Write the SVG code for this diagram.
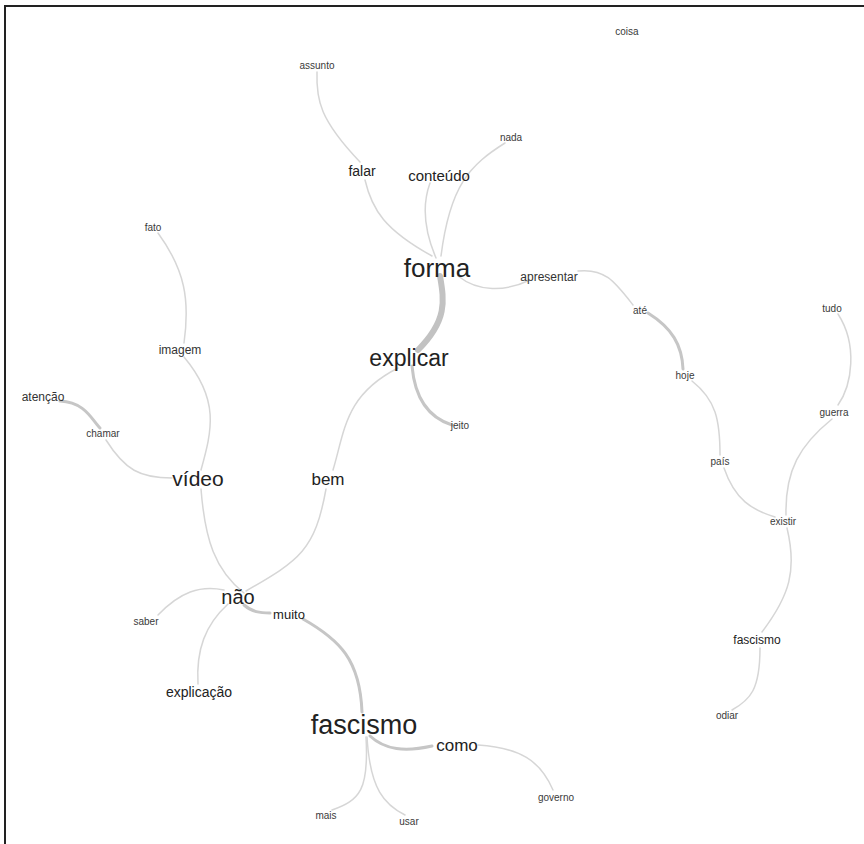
<svg xmlns="http://www.w3.org/2000/svg" width="864" height="844" viewBox="0 0 864 844">
<style>
text{font-family:"Liberation Sans",Arial,sans-serif;text-anchor:middle;dominant-baseline:central;fill:#222}
.s{fill:#3a3a3a;font-size:10px}
.m{fill:#333;font-size:12px}
.e{fill:none;stroke:#d6d6d6;stroke-width:1.5;stroke-linecap:round}
.t{stroke:#c6c6c6;stroke-width:3}
.tt{stroke:#c2c2c2;stroke-width:6}
</style>
<rect x="0" y="0" width="864" height="844" fill="#fff"/>
<path d="M5 844V6H864" fill="none" stroke="#222" stroke-width="2"/>
<g id="edges">
<path class="e" d="M317 72C316 100 320 120 360 162"/>
<path class="e" d="M365 180C372 210 385 230 432 256"/>
<path class="e" d="M430 183C422 205 424 230 436 258"/>
<path class="e" d="M505 143C470 165 450 185 441 256"/>
<path class="e tt" d="M440 276C444 300 448 320 418 350"/>
<path class="e" d="M458 276C478 292 505 292 530 280"/>
<path class="e" d="M578 271C605 268 615 282 633 305"/>
<path class="e t" d="M648 313C672 328 682 345 683 369"/>
<path class="e" d="M692 381C716 400 720 420 720 455"/>
<path class="e" d="M724 468C735 500 752 510 775 517"/>
<path class="e" d="M838 314C858 345 852 385 838 405"/>
<path class="e" d="M832 419C800 445 785 470 786 515"/>
<path class="e" d="M787 528C797 570 790 595 762 632"/>
<path class="e" d="M760 648C760 690 750 700 732 710"/>
<path class="e t" d="M412 366C415 400 430 418 452 425"/>
<path class="e" d="M398 368C345 395 345 430 333 470"/>
<path class="e" d="M326 489C315 550 300 560 246 591"/>
<path class="e" d="M158 233C185 270 190 300 184 343"/>
<path class="e" d="M184 357C220 400 212 430 201 470"/>
<path class="e t" d="M60 401C85 402 92 420 100 428"/>
<path class="e" d="M106 440C125 470 140 478 172 478"/>
<path class="e" d="M201 489C205 540 215 570 244 593"/>
<path class="e t" d="M244 605C252 612 260 613 270 613"/>
<path class="e t" d="M303 619C340 640 360 660 362 712"/>
<path class="e" d="M224 590C200 585 180 592 158 615"/>
<path class="e" d="M228 604C205 625 196 650 198 684"/>
<path class="e t" d="M370 736C385 750 405 752 432 746"/>
<path class="e" d="M478 745C520 748 540 760 553 790"/>
<path class="e" d="M366 737C369 790 360 800 332 810"/>
<path class="e" d="M367 737C370 790 385 805 405 815"/>
</g>
<g id="coisa"><text class="s" x="627" y="31">coisa</text></g>
<g id="assunto"><text class="s" x="317" y="65">assunto</text></g>
<g id="nada"><text class="s" x="511" y="137">nada</text></g>
<g id="falar"><text x="362" y="171" font-size="14" fill="#2a2a2a">falar</text></g>
<g id="conteudo"><text x="439" y="175" font-size="15" fill="#2a2a2a">conteúdo</text></g>
<g id="forma"><text x="437" y="268" font-size="26" fill="#111">forma</text></g>
<g id="apresentar"><text class="m" x="549" y="277">apresentar</text></g>
<g id="ate"><text class="s" x="640" y="310">até</text></g>
<g id="hoje"><text class="s" x="685" y="375">hoje</text></g>
<g id="explicar"><text x="409" y="358" font-size="23" fill="#111">explicar</text></g>
<g id="jeito"><text class="s" x="460" y="425">jeito</text></g>
<g id="fato"><text class="s" x="153" y="227">fato</text></g>
<g id="imagem"><text class="m" x="180" y="350">imagem</text></g>
<g id="atencao"><text class="m" x="43" y="397">atenção</text></g>
<g id="chamar"><text class="s" x="103" y="433">chamar</text></g>
<g id="video"><text x="198" y="478" font-size="21" fill="#151515">vídeo</text></g>
<g id="bem"><text x="328" y="479" font-size="17" fill="#222">bem</text></g>
<g id="pais"><text class="s" x="720" y="461">país</text></g>
<g id="tudo"><text class="s" x="832" y="308">tudo</text></g>
<g id="guerra"><text class="s" x="834" y="412">guerra</text></g>
<g id="existir"><text class="s" x="783" y="521">existir</text></g>
<g id="fascismo2"><text x="757" y="640" font-size="12" fill="#333">fascismo</text></g>
<g id="odiar"><text class="s" x="727" y="715">odiar</text></g>
<g id="nao"><text x="238" y="597" font-size="20" fill="#151515">não</text></g>
<g id="muito"><text x="289" y="614" font-size="13" fill="#2a2a2a">muito</text></g>
<g id="saber"><text class="s" x="146" y="621">saber</text></g>
<g id="explicacao"><text x="199" y="692" font-size="14" fill="#2a2a2a">explicação</text></g>
<g id="fascismo"><text x="364" y="725" font-size="27" fill="#111">fascismo</text></g>
<g id="como"><text x="457" y="745" font-size="17" fill="#222">como</text></g>
<g id="governo"><text class="s" x="556" y="797">governo</text></g>
<g id="mais"><text class="s" x="326" y="815">mais</text></g>
<g id="usar"><text class="s" x="409" y="821">usar</text></g>
</svg>
